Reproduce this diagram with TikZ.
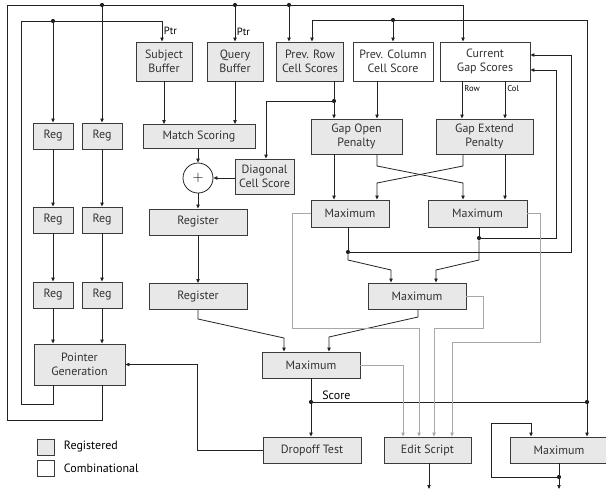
\documentclass[tikz,border=0pt]{standalone}
\usepackage{fontspec}
\setmainfont{PT Sans}
\usetikzlibrary{arrows.meta, positioning}

\definecolor{regfill}{HTML}{E8E8E8}
\definecolor{boxline}{HTML}{3A3A3A}
\definecolor{wireline}{HTML}{222222}
\definecolor{greywire}{HTML}{A8A8A8}

\begin{document}
\begin{tikzpicture}[x=1pt, y=-1pt, font=\fontsize{12}{13.5}\selectfont]
    \tikzset{RegStyle/.style = {draw=boxline, fill=regfill, line width=0.9pt, align=center, inner sep=0pt, text=black!80}}
    \tikzset{CombStyle/.style = {RegStyle, fill=white}}
    \tikzset{BoxSize/.style 2 args = {minimum width=#1, minimum height=#2}}
    \tikzset{WireStyle/.style = {draw=wireline, line width=0.8pt}}
    \tikzset{ArrowStyle/.style = {WireStyle, -{Triangle[length=4pt, width=3.4pt]}}}
    \tikzset{GreyStyle/.style = {draw=greywire, line width=0.8pt, -{Triangle[length=4pt, width=3.4pt]}}}
    \tikzset{DotStyle/.style = {circle, fill=wireline, inner sep=0pt, minimum size=4.2pt}}
    \tikzset{TagStyle/.style = {inner sep=1.5pt, font=\fontsize{10.5}{12}\selectfont}}
    \tikzset{SmallTagStyle/.style = {inner sep=2pt, font=\fontsize{8.5}{10}\selectfont}}
    \useasboundingbox (0,0) rectangle (606,491);

    \node[RegStyle, BoxSize={56pt}{39pt}](sbuf) at (164,61.5){Subject\\Buffer};
    \node[RegStyle, BoxSize={56pt}{39pt}](qbuf) at (235,61.5){Query\\Buffer};
    \node[RegStyle, BoxSize={67pt}{39pt}](prow) at (310,61.5){Prev. Row\\Cell Scores};
    \node[CombStyle, BoxSize={80pt}{39pt}](pcol) at (393,61.5){Prev. Column\\Cell Score};
    \node[CombStyle, BoxSize={90pt}{39pt}](cgap) at (485,61.5){Current\\Gap Scores};

    \node[RegStyle, BoxSize={40pt}{26pt}](reg11) at (53,136){Reg};
    \node[RegStyle, BoxSize={40pt}{26pt}](reg12) at (102,136){Reg};
    \node[RegStyle, BoxSize={40pt}{26pt}](reg21) at (53,220){Reg};
    \node[RegStyle, BoxSize={40pt}{26pt}](reg22) at (102,220){Reg};
    \node[RegStyle, BoxSize={40pt}{26pt}](reg31) at (53,295){Reg};
    \node[RegStyle, BoxSize={40pt}{26pt}](reg32) at (102,295){Reg};
    \node[RegStyle, BoxSize={91pt}{41pt}](pgen) at (79.5,364.5){Pointer\\Generation};

    \node[RegStyle, BoxSize={112pt}{24pt}](ms) at (199,136.5){Match Scoring};
    \node[circle, draw=wireline, line width=0.8pt, fill=white, minimum size=30pt, inner sep=0pt](sum) at (198,178){\Large$+$};
    \node[RegStyle, BoxSize={59pt}{35pt}](diag) at (264.5,176.5){Diagonal\\Cell Score};
    \node[RegStyle, BoxSize={98pt}{26pt}](reg1) at (198,222){Register};
    \node[RegStyle, BoxSize={98pt}{26pt}](reg2) at (198,296.5){Register};

    \node[RegStyle, BoxSize={91pt}{35pt}](gopen) at (356.5,136.5){Gap Open\\Penalty};
    \node[RegStyle, BoxSize={97pt}{35pt}](gext) at (484.5,136.5){Gap Extend\\Penalty};
    \node[RegStyle, BoxSize={78pt}{27pt}](max1) at (350,213.5){Maximum};
    \node[RegStyle, BoxSize={99pt}{27pt}](max2) at (477.5,213.5){Maximum};
    \node[RegStyle, BoxSize={98pt}{26pt}](max3) at (417,296){Maximum};
    \node[RegStyle, BoxSize={98pt}{26pt}](max4) at (311,365){Maximum};

    \node[RegStyle, BoxSize={98pt}{26pt}](drop) at (312,450){Dropoff Test};
    \node[RegStyle, BoxSize={87pt}{26pt}](edit) at (427.5,450){Edit Script};
    \node[RegStyle, BoxSize={98pt}{26pt}](max5) at (559,450){Maximum};

    \node[RegStyle, BoxSize={17pt}{16pt}](legreg) at (45.5,447){};
    \node[CombStyle, BoxSize={17pt}{16pt}](legcomb) at (45.5,468.5){};
    \node[right=6pt of legreg]{Registered};
    \node[right=6pt of legcomb]{Combinational};

    \node[DotStyle](jtop1) at (102,5){};
    \node[DotStyle](jtop2) at (235,5){};
    \node[DotStyle](jtop3) at (289,5){};
    \node[DotStyle](jptr) at (53,21){};
    \node[DotStyle](jpcol) at (393,20){};
    \node[DotStyle](jrow) at (334,101){};
    \node[DotStyle](jmx2) at (479,238){};
    \node[DotStyle](jmx1) at (348,252){};
    \node[DotStyle](jscore) at (311,402){};
    \node[DotStyle](jscoreR) at (587,402){};
    \node[DotStyle](jmx5) at (559,477){};
    \coordinate (editout) at (429,489);
    \coordinate (max5out) at (559,489);

    \draw[WireStyle](pgen.south -| reg32) |- (7,420) |- (jtop1);
    \draw[WireStyle](jtop1) -- (jtop2);
    \draw[WireStyle](jtop2) -- (jtop3);
    \draw[ArrowStyle](jtop3) -| ([xshift=-22pt]cgap.north);
    \draw[ArrowStyle](jtop1) -- (reg12);
    \draw[ArrowStyle](jtop2) -- node[TagStyle, right, pos=0.72]{Ptr} (qbuf);
    \draw[ArrowStyle](jtop3) -- (jtop3 |- prow.north);

    \draw[WireStyle](pgen.south -| reg31) |- (21,404) |- (jptr);
    \draw[ArrowStyle](jptr) -| node[TagStyle, right, pos=0.75]{Ptr} ([xshift=-2pt]sbuf.north);
    \draw[ArrowStyle](jptr) -- (reg11);
    \draw[ArrowStyle](reg11) -- (reg21);
    \draw[ArrowStyle](reg21) -- (reg31);
    \draw[ArrowStyle](reg31) -- (reg31 |- pgen.north);
    \draw[ArrowStyle](reg12) -- (reg22);
    \draw[ArrowStyle](reg22) -- (reg32);
    \draw[ArrowStyle](reg32) -- (reg32 |- pgen.north);

    \draw[ArrowStyle](sbuf) -- (sbuf |- ms.north);
    \draw[ArrowStyle](qbuf) -- (qbuf |- ms.north);
    \draw[ArrowStyle](sum |- ms.south) -- (sum);
    \draw[ArrowStyle](diag.west |- sum) -- (sum);
    \draw[ArrowStyle](sum) -- (sum |- reg1.north);
    \draw[ArrowStyle](reg1) -- (reg2);
    \draw[ArrowStyle](reg2.south) -- (198,319) -- (284,338) -- ([xshift=-27pt]max4.north);

    \draw[WireStyle](jrow |- prow.south) -- (jrow);
    \draw[ArrowStyle](jrow) -- (jrow |- gopen.north);
    \draw[ArrowStyle](jrow) -| ([xshift=1.5pt]diag.north);
    \draw[ArrowStyle]([xshift=-16pt]pcol.south) -- ([xshift=-16pt]pcol.south |- gopen.north);
    \draw[ArrowStyle]([xshift=-23pt]cgap.south) -- node[SmallTagStyle, right, pos=0.2]{Row} ([xshift=-23pt]cgap.south |- gext.north);
    \draw[ArrowStyle]([xshift=20pt]cgap.south) -- node[SmallTagStyle, right, pos=0.2]{Col} ([xshift=20pt]cgap.south |- gext.north);

    \draw[ArrowStyle]([xshift=-22.5pt]gopen.south) -- ([xshift=-22.5pt]gopen.south |- max1.north);
    \draw[ArrowStyle]([xshift=20.5pt]gopen.south) -- (377,166) -- (463,183) -- ([xshift=-14.5pt]max2.north);
    \draw[ArrowStyle]([xshift=-21.5pt]gext.south) -- (463,166) -- (377,183) -- ([xshift=27pt]max1.north);
    \draw[ArrowStyle]([xshift=20.5pt]gext.south) -- ([xshift=20.5pt]gext.south |- max2.north);

    \draw[WireStyle](jmx1 |- max1.south) -- (jmx1);
    \draw[ArrowStyle](jmx1) -- (348,260) -- (391,270) -- ([xshift=-26pt]max3.north);
    \draw[ArrowStyle](jmx1) -- (571,252) |- ([yshift=6.5pt]cgap.east);
    \draw[WireStyle](jmx2 |- max2.south) -- (jmx2);
    \draw[ArrowStyle](jmx2) -- (479,260) -- (436,270) -- ([xshift=19pt]max3.north);
    \draw[ArrowStyle](jmx2) -- (556,238) |- ([yshift=-8.5pt]cgap.east);

    \draw[ArrowStyle]([xshift=1pt]max3.south) -- (418,317) -- (329,337) -- ([xshift=18pt]max4.north);
    \draw[WireStyle](jscore |- max4.south) -- (jscore);
    \draw[ArrowStyle](jscore) -- (jscore |- drop.north);
    \draw[WireStyle](jscore) -- node[above, pos=0.085, inner sep=2pt]{Score} (jscoreR);
    \draw[ArrowStyle](jscoreR) -- (jscoreR |- max5.north);
    \draw[WireStyle](jscoreR) |- (jpcol);
    \draw[ArrowStyle](jpcol) -| ([xshift=2pt]prow.north);
    \draw[ArrowStyle](jpcol) -- (pcol);

    \draw[ArrowStyle](drop.west) -- (197,450) |- (pgen.east);

    \draw[GreyStyle](max4.east) -| ([xshift=-24.5pt]edit.north);
    \draw[GreyStyle](max1.west) -| (292,328) -| ([xshift=-8.5pt]edit.north);
    \draw[GreyStyle](max3.east) -| (483,328) -| ([xshift=6.5pt]edit.north);
    \draw[GreyStyle](max2.east) -| (540,342) -| ([xshift=24.5pt]edit.north);

    \draw[ArrowStyle](edit.south -| editout) -- (editout);
    \draw[WireStyle](max5) -- (jmx5);
    \draw[ArrowStyle](jmx5) -- (max5out);
    \draw[ArrowStyle](jmx5) -| (491,423) -| ([xshift=-28pt]max5.north);
\end{tikzpicture}
\end{document}
